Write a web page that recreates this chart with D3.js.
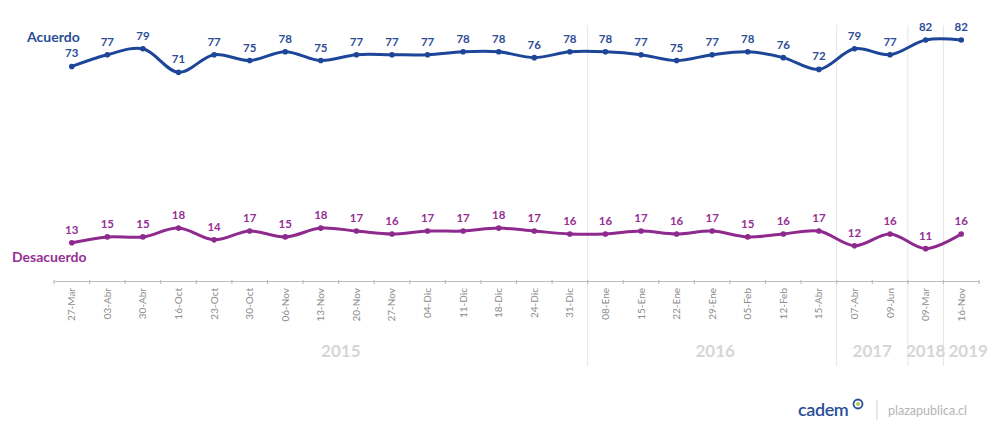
<!DOCTYPE html>
<html>
<head>
<meta charset="utf-8">
<script src="https://cdn.jsdelivr.net/npm/d3@7"></script>
<style>
  html, body { margin: 0; padding: 0; background: #fff; }
  svg { display: block; }
</style>
</head>
<body>
<svg id="chart" width="993" height="427"></svg>
<script>
// Survey dates (one per fieldwork wave)
const categories = [
  "27-Mar", "03-Abr", "30-Abr", "16-Oct", "23-Oct", "30-Oct", "06-Nov", "13-Nov",
  "20-Nov", "27-Nov", "04-Dic", "11-Dic", "18-Dic", "24-Dic", "31-Dic",
  "08-Ene", "15-Ene", "22-Ene", "29-Ene", "05-Feb", "12-Feb", "15-Abr",
  "07-Abr", "09-Jun", "09-Mar", "16-Nov"
];
// Percent in agreement
const acuerdo = [73, 77, 79, 71, 77, 75, 78, 75, 77, 77, 77, 78, 78, 76, 78,
                 78, 77, 75, 77, 78, 76, 72, 79, 77, 82, 82];
// Percent in disagreement
const desacuerdo = [13, 15, 15, 18, 14, 17, 15, 18, 17, 16, 17, 17, 18, 17, 16,
                    16, 17, 16, 17, 15, 16, 17, 12, 16, 11, 16];
// Year groups on the second axis level
const years = ["2015", "2016", "2017", "2018", "2019"];
const yearCounts = [15, 7, 2, 1, 1];

const svg = d3.select("#chart");
const font = "Lato, 'Open Sans', sans-serif";

const x = d3.scaleBand().domain(categories).range([54, 979]).padding(0);
const y = d3.scaleLinear().domain([0, 82]).range([281, 40]);
const axisY = 281;

// Year group boundaries (vertical separators)
let start = 0;
const groups = years.map((yr, i) => {
  const g = { year: yr, first: start, last: start + yearCounts[i] - 1 };
  start += yearCounts[i];
  return g;
});
const labelShift = { "2015": 20, "2016": 3, "2019": 7 };

svg.append("g").selectAll("line")
  .data(groups.slice(1))
  .join("line")
  .attr("x1", d => x(categories[d.first]))
  .attr("x2", d => x(categories[d.first]))
  .attr("y1", 25)
  .attr("y2", 366)
  .attr("stroke", "#e6e6e6")
  .attr("stroke-width", 1);

// Category axis: labels at band centres, tick marks at band edges
const axis = svg.append("g")
  .attr("transform", `translate(0,${axisY})`)
  .call(d3.axisBottom(x).tickSize(0).tickPadding(6));
axis.select(".domain").attr("stroke", "#bdbdbd").attr("stroke-width", 1.2);
axis.selectAll(".tick text")
  .attr("transform", "rotate(-90)")
  .attr("text-anchor", "end")
  .attr("dy", "0.35em")
  .attr("x", -7)
  .attr("y", 0)
  .attr("fill", "#8c8c8c")
  .style("font-family", font)
  .style("font-size", "10px");

const edges = categories.map(c => x(c)).concat([x.range()[1]]);
svg.append("g").selectAll("line")
  .data(edges)
  .join("line")
  .attr("x1", d => d).attr("x2", d => d)
  .attr("y1", axisY - 1).attr("y2", axisY + 3)
  .attr("stroke", "#bdbdbd").attr("stroke-width", 1.2);

// Year labels
svg.append("g").selectAll("text")
  .data(groups)
  .join("text")
  .attr("x", d => (x(categories[d.first]) + x(categories[d.last]) + x.bandwidth()) / 2 + (labelShift[d.year] || 0))
  .attr("y", 357)
  .attr("text-anchor", "middle")
  .attr("fill", "#d6d6d6")
  .style("font-family", font)
  .style("font-weight", "bold")
  .style("font-size", "17px")
  .text(d => d.year);

// Series
const series = [
  { name: "Acuerdo", values: acuerdo, line: "#1d4699", text: "#2c4d96" },
  { name: "Desacuerdo", values: desacuerdo, line: "#8e2a8e", text: "#952f95" }
];

const lineGen = d3.line()
  .x((d, i) => x(categories[i]) + x.bandwidth() / 2)
  .y(d => y(d))
  .curve(d3.curveCatmullRom.alpha(0.5));

series.forEach(s => {
  const g = svg.append("g");
  g.append("path")
    .datum(s.values)
    .attr("d", lineGen)
    .attr("fill", "none")
    .attr("stroke", s.line)
    .attr("stroke-width", 3)
    .attr("stroke-linejoin", "round");
  g.selectAll("circle")
    .data(s.values)
    .join("circle")
    .attr("cx", (d, i) => x(categories[i]) + x.bandwidth() / 2)
    .attr("cy", d => y(d))
    .attr("r", 2.8)
    .attr("fill", s.line);
  g.selectAll("text")
    .data(s.values)
    .join("text")
    .attr("x", (d, i) => x(categories[i]) + x.bandwidth() / 2)
    .attr("y", d => y(d) - 9)
    .attr("text-anchor", "middle")
    .attr("fill", s.text)
    .style("font-family", font)
    .style("font-weight", "bold")
    .style("font-size", "11.5px")
    .text(d => d);
});

// Series names
svg.append("text")
  .attr("x", 27).attr("y", 42)
  .attr("fill", "#2c4d96")
  .style("font-family", font).style("font-weight", "bold").style("font-size", "14px")
  .text("Acuerdo");
svg.append("text")
  .attr("x", 12).attr("y", 262)
  .attr("fill", "#952f95")
  .style("font-family", font).style("font-weight", "bold").style("font-size", "14px")
  .text("Desacuerdo");

// Source footer
const foot = svg.append("g");
foot.append("text")
  .attr("x", 798).attr("y", 416)
  .attr("fill", "#2a4f9a")
  .style("font-family", font).style("font-weight", "600").style("font-size", "18px")
  .style("letter-spacing", "-0.4px")
  .text("cadem");
foot.append("circle").attr("cx", 858).attr("cy", 404).attr("r", 4.5)
  .attr("fill", "#ffffff").attr("stroke", "#2a4f9a").attr("stroke-width", 1.8);
foot.append("circle").attr("cx", 858).attr("cy", 404).attr("r", 2).attr("fill", "#b8c94a");
foot.append("line")
  .attr("x1", 877).attr("x2", 877).attr("y1", 400).attr("y2", 420)
  .attr("stroke", "#cfcfcf").attr("stroke-width", 1);
foot.append("text")
  .attr("x", 888).attr("y", 415)
  .attr("fill", "#b5b5b5")
  .style("font-family", font).style("font-size", "12.5px")
  .text("plazapublica.cl");
</script>
</body>
</html>
